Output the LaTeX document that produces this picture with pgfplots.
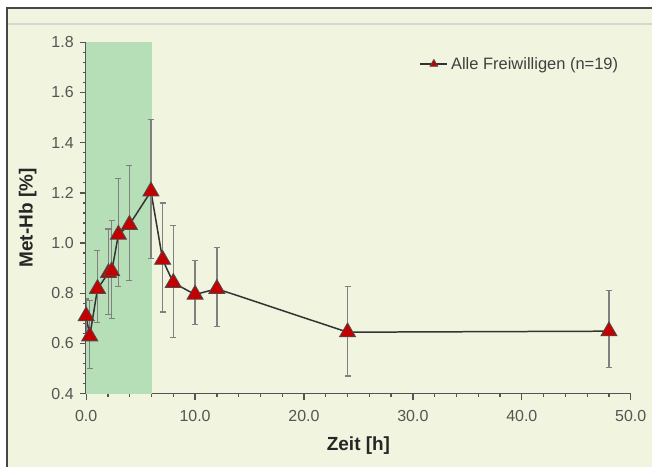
\documentclass[border=0pt]{standalone}
\usepackage{fontspec}
\setmainfont{Liberation Sans}
\usepackage{pgfplots}
\usepackage{pgfplotstable}
\pgfplotsset{compat=1.18}
\definecolor{cream}{HTML}{F1F4DE}
\definecolor{band}{HTML}{B6DFB8}
\definecolor{mred}{HTML}{C40000}
\definecolor{axgray}{HTML}{555555}
\definecolor{ebgray}{HTML}{808080}
\pgfplotstableread{
x y ep em
0 0.709 0.068 0.070
0.33 0.629 0.141 0.129
1.04 0.818 0.153 0.134
2.05 0.881 0.175 0.166
2.35 0.888 0.203 0.188
2.96 1.034 0.222 0.206
3.97 1.073 0.236 0.222
5.95 1.206 0.285 0.268
7.02 0.934 0.226 0.208
8 0.842 0.229 0.217
10 0.795 0.136 0.119
12 0.818 0.165 0.149
24 0.645 0.183 0.175
48 0.649 0.162 0.146
}\data
\begin{document}
\begin{tikzpicture}
\fill[white] (-86.3pt,-73.7pt) rectangle (566.7pt,394.3pt);
\fill[cream] (-79.3pt,-73.7pt) rectangle (566.7pt,386.3pt);
\draw[color={rgb,255:red,215;green,215;blue,205}, line width=1.5pt] (-79.3pt,370.3pt) -- (566.7pt,370.3pt);
\draw[color={rgb,255:red,70;green,70;blue,70}, line width=2pt] (-79.3pt,-73.7pt) -- (-79.3pt,386.3pt) -- (566.7pt,386.3pt);
\begin{axis}[
  at={(0,0)}, anchor=south west,
  scale only axis, width=545.4pt, height=352pt,
  xmin=0, xmax=50, ymin=0.4, ymax=1.8,
  axis x line=bottom, axis y line=left,
  axis line style={-, axgray, line width=1.5pt},
  xtick={0,10,...,50}, ytick={0.4,0.6,...,1.8},
  minor x tick num=4, minor y tick num=4,
  tick align=outside,
  major tick length=6pt, minor tick length=3.5pt,
  tick style={axgray, line width=1.3pt},
  clip mode=individual,
  /pgf/number format/.cd, fixed, fixed zerofill, precision=1, assume math mode=true,
  /pgfplots/.cd,
  tick label style={font=\fontsize{16}{19}\selectfont, text=axgray},
  xticklabel style={yshift=-7pt},
  yticklabel style={xshift=-3pt},
  xlabel={\bfseries Zeit [h]},
  ylabel={\bfseries Met-Hb [\%]},
  label style={font=\fontsize{19}{22}\selectfont, text=black!85},
  xlabel style={yshift=-8pt},
  ylabel style={yshift=8pt},
  legend style={at={(0.612,0.938)}, anchor=west, draw=none, fill=none,
    font=\fontsize{16.5}{19}\selectfont, text=black!75, inner sep=0pt,
    nodes={inner sep=3pt}},
  legend image code/.code={\draw[mark repeat=2,mark phase=2,#1,mark size=4.5pt] plot coordinates {(0pt,0pt)(13.5pt,0pt)(27pt,0pt)};},
]
\addplot[draw=none, fill=band, forget plot] coordinates {(0,0.4) (0,1.8) (6,1.8) (6,0.4)} -- cycle;
\addplot[color=black!80, line width=1.5pt, mark=triangle*, mark size=9.3pt,
  mark options={fill=mred, draw=black!70, line width=0.8pt},
  error bars/.cd, y dir=both, y explicit,
  error bar style={ebgray, line width=1.3pt},
  error mark options={rotate=90, mark size=3pt, ebgray, line width=1.3pt}]
  table[x=x, y=y, y error plus=ep, y error minus=em] {\data};
\addlegendentry{Alle Freiwilligen (n=19)}
\end{axis}
\end{tikzpicture}
\end{document}
